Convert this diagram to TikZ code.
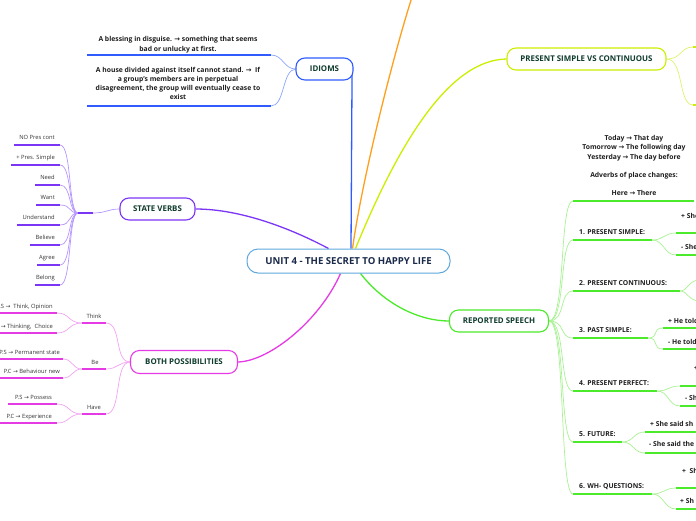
\documentclass[tikz,border=0pt]{standalone}
\usepackage{fontspec}
\setmainfont{Open Sans}
\newfontfamily\arrfont{DejaVu Sans}
\newcommand{\myarr}{{\arrfont\char"2192}}
\usetikzlibrary{calc}
\pgfdeclarelayer{bg}
\pgfsetlayers{bg,main}
\definecolor{nodegreen}{HTML}{0E3B2C}
\definecolor{ctrnavy}{HTML}{1A2A4A}
\definecolor{ctrblue}{HTML}{5FA8DC}
\definecolor{leafgray}{HTML}{333333}
\definecolor{lblblack}{HTML}{1E1E1E}
\definecolor{bluethick}{HTML}{2F5BFF}
\definecolor{bluethin}{HTML}{8CA5FF}
\definecolor{purplethick}{HTML}{7B35F5}
\definecolor{purplethin}{HTML}{B595FF}
\definecolor{magthick}{HTML}{E53BE5}
\definecolor{magthin}{HTML}{F3A3F3}
\definecolor{greenthick}{HTML}{4BEA2A}
\definecolor{greenthin}{HTML}{A8F293}
\definecolor{yelthick}{HTML}{CCEE00}
\definecolor{yelthin}{HTML}{DFF270}
\definecolor{orangeline}{HTML}{FF9F1C}
\begin{document}
\begin{tikzpicture}[x=1pt,y=-1pt,
  mainnode/.style={draw, fill=white, rounded corners=9pt, line width=1.1pt, text=nodegreen,
    font=\bfseries\fontsize{7.9}{9}\selectfont, inner sep=0pt, minimum height=22pt},
  leaf/.style={font=\fontsize{5.8}{7}\selectfont, text=leafgray, inner sep=0pt},
  lbl/.style={font=\bfseries\fontsize{6.8}{8}\selectfont, text=lblblack, inner sep=0pt},
  thickline/.style={line width=1.8pt},
  thinline/.style={line width=0.7pt},
  mainline/.style={line width=1.3pt}]
\useasboundingbox (0,0) rectangle (696,520);
\clip (0,0) rectangle (696,520);

% ---------- main nodes ----------
\node[draw=ctrblue, fill=white, line width=1pt, rounded corners=11pt, minimum width=203pt,
  minimum height=24pt, text=ctrnavy, font=\bfseries\fontsize{9.6}{11}\selectfont, inner sep=0pt]
  (ctr) at (348.5,261) {UNIT 4 - THE SECRET TO HAPPY LIFE};
\node[mainnode, draw=bluethick, minimum width=57pt] (idi) at (324.5,69) {IDIOMS};
\node[mainnode, draw=purplethick, minimum width=75pt] (sv) at (157.5,209) {STATE VERBS};
\node[mainnode, draw=magthick, minimum width=107pt, minimum height=23pt] (bp) at (184,362) {BOTH POSSIBILITIES};
\node[mainnode, draw=greenthick, minimum width=99pt] (rs) at (499,321) {REPORTED SPEECH};
\node[mainnode, draw=yelthick, minimum width=159pt] (pvc) at (586.5,59) {PRESENT SIMPLE VS CONTINUOUS};
\coordinate (orng) at (412,-3);

% ---------- IDIOMS ----------
\node[lbl, anchor=base] (i1a) at (178,41.5) {A blessing in disguise. \myarr{} something that seems};
\node[lbl, anchor=base] (i1b) at (178,51.5) {bad or unlucky at first.};
\node[lbl, anchor=base] (i2a) at (178,72.5) {A house divided against itself cannot stand. \myarr{}\ \ If};
\node[lbl, anchor=base] (i2b) at (178,81.5) {a group's members are in perpetual};
\node[lbl, anchor=base] (i2c) at (178,90.5) {disagreement, the group will eventually cease to};
\node[lbl, anchor=base] (i2d) at (178,99.5) {exist};
\coordinate (ie1) at (271,55);
\coordinate (ie2) at (271,106);
\draw[thickline, bluethick] (87,55) -- (ie1);
\draw[thickline, bluethick] (87,106) -- (ie2);

% ---------- STATE VERBS ----------
\coordinate (svhub) at (78,213);
\coordinate (svhubb) at (93,213);
\foreach \t/\y/\xs [count=\i] in {NO Pres cont/145/14, + Pres. Simple/165/11, Need/185/35,
    Want/205/36, Understand/225/17, Believe/245/30, Agree/265/37, Belong/285/35} {
  \node[leaf, anchor=base east] (svl\i) at (55,\y-5.5) {\t};
  \coordinate (sve\i) at (60,\y);
  \draw[thickline, purplethick] (\xs,\y) -- (sve\i);
  \begin{pgfonlayer}{bg}
  \draw[thinline, purplethin] (sve\i) .. controls (72,\y) and (68,213) .. (svhub);
  \end{pgfonlayer}
}
\draw[thickline, purplethick] (svhub) -- (svhubb);

% ---------- BOTH POSSIBILITIES ----------
\node[leaf, anchor=base] (mth) at (94,318) {Think};
\node[leaf, anchor=base] (mbe) at (95,364) {Be};
\node[leaf, anchor=base] (mha) at (94,409) {Have};
\coordinate (mth1) at (82,323); \coordinate (mth2) at (106,323);
\coordinate (mbe1) at (82,369); \coordinate (mbe2) at (106,369);
\coordinate (mha1) at (82,414); \coordinate (mha2) at (106,414);
\draw[thickline, magthick] (mth1) -- (mth2);
\draw[thickline, magthick] (mbe1) -- (mbe2);
\draw[thickline, magthick] (mha1) -- (mha2);

\node[leaf, anchor=base east] (l1) at (53,308) {P.S \myarr{}\ \ Think, Opinion};
\node[leaf, anchor=base east] (l2) at (53,328) {P.C \myarr{} Thinking,\ \ Choice};
\node[leaf, anchor=base east] (l3) at (60,354) {P.S \myarr{} Permanent state};
\node[leaf, anchor=base east] (l4) at (60,373) {P.C \myarr{} Behaviour new};
\node[leaf, anchor=base east] (l5) at (52,399) {P.S \myarr{} Possess};
\node[leaf, anchor=base east] (l6) at (52,418) {P.C \myarr{} Experience};
\coordinate (le1) at (57,313); \coordinate (le2) at (57,333);
\coordinate (le3) at (63,359); \coordinate (le4) at (63,378);
\coordinate (le5) at (57,404); \coordinate (le6) at (57,423);
\draw[thickline, magthick] (-5,313) -- (le1);
\draw[thickline, magthick] (-5,333) -- (le2);
\draw[thickline, magthick] (-5,359) -- (le3);
\draw[thickline, magthick] (-5,378) -- (le4);
\draw[thickline, magthick] (8,404) -- (le5);
\draw[thickline, magthick] (-5,423) -- (le6);

% ---------- REPORTED SPEECH ----------
\node[lbl, anchor=base] (t1) at (634,140.3) {Today \myarr{} That day};
\node[lbl, anchor=base] (t2) at (634,149.5) {Tomorrow \myarr{} The following day};
\node[lbl, anchor=base] (t3) at (634,159) {Yesterday \myarr{} The day before};
\node[lbl, anchor=base] (t4) at (634,177.3) {Adverbs of place changes:};
\node[lbl, anchor=base] (t5) at (634,195.3) {Here \myarr{} There};
\coordinate (rb0) at (573,201);
\draw[thickline, greenthick] (rb0) -- (694,201);

\foreach \t/\y/\xe [count=\i] in {1. PRESENT SIMPLE:/240/652, 2. PRESENT CONTINUOUS:/291/680,
    3. PAST SIMPLE:/338/648, 4. PRESENT PERFECT:/391/657, 5. FUTURE:/442/622, 6. WH- QUESTIONS:/494/652} {
  \node[lbl, anchor=base west] (rl\i) at (579,\y-5.5) {\t};
  \coordinate (rb\i) at (573,\y);
  \coordinate (re\i) at (\xe,\y);
  \draw[thickline, greenthick] (rb\i) -- (re\i);
}
% sub-branches (cut by the right edge)
\foreach \txt/\tx/\ty/\ly/\lx/\k in {+ She/681/218.5/233/676/1, - She/681/249.5/255/676/1,
    + He told/668/323/328/663/3, - He told/668/344/349/663/3,
    +/694/370/386/680/4, - Sh/685/400.5/406/680/4,
    + She said sh/650/426.5/432/645/5, - She said the/649/446.5/453/645/5,
    +\ \ Sh/682/473.5/488/676/6, + Sh/680/503.5/509/676/6} {
  \node[lbl, anchor=base west] at (\tx,\ty) {\txt};
  \coordinate (sb) at (\lx,\ly);
  \draw[thickline, greenthick] (sb) -- (700,\ly);
  \begin{pgfonlayer}{bg}
  \draw[thinline, greenthin] (re\k) .. controls ($(re\k)+(12,0)$) and ($(sb)+(-12,0)$) .. (sb);
  \end{pgfonlayer}
}
\coordinate (s2a) at (700,280);
\coordinate (s2b) at (700,301);

% ---------- connectors ----------
\begin{pgfonlayer}{bg}
\draw[mainline, bluethick] ($(ctr.north)+(2.5,0)$) -- ($(idi.east)+(-1.5,5)$);
\draw[mainline, orangeline] ($(ctr.north)+(4,0)$) .. controls (362,180) and (392,60) .. (orng);
\draw[mainline, yelthick] ($(ctr.north)+(7,0)$) .. controls (400,140) and (450,60) .. (pvc.west);
\draw[mainline, purplethick] ($(ctr.north)+(-20,0)$) .. controls (290,228) and (240,209) .. (sv.east);
\draw[mainline, magthick] ($(ctr.south)+(-8,0)$) .. controls (320,320) and (270,361) .. (bp.east);
\draw[mainline, greenthick] ($(ctr.south)+(12,0)$) .. controls (385,305) and (420,321) .. (rs.west);

% idioms
\draw[thinline, bluethin] (idi.west) .. controls (284,69) and (283,55) .. (ie1);
\draw[thinline, bluethin] (idi.west) .. controls (282,70) and (285,106) .. (ie2);
% state verbs
\draw[thinline, purplethin] (svhubb) .. controls (106,213) and (108,209) .. (sv.west);
% both possibilities
\draw[thinline, magthin] (le1) .. controls (70,313) and (68,323) .. (mth1);
\draw[thinline, magthin] (le2) .. controls (70,333) and (68,323) .. (mth1);
\draw[thinline, magthin] (le3) .. controls (73,359) and (72,369) .. (mbe1);
\draw[thinline, magthin] (le4) .. controls (73,378) and (72,369) .. (mbe1);
\draw[thinline, magthin] (le5) .. controls (70,404) and (68,414) .. (mha1);
\draw[thinline, magthin] (le6) .. controls (70,423) and (68,414) .. (mha1);
\draw[thinline, magthin] (mth2) .. controls (122,323) and (114,362) .. (bp.west);
\draw[thinline, magthin] (mbe2) .. controls (118,369) and (118,362) .. (bp.west);
\draw[thinline, magthin] (mha2) .. controls (122,414) and (114,362) .. (bp.west);
% reported speech fan
\foreach \i in {0,...,6} {
  \draw[thinline, greenthin] (rs.east) .. controls (566,321) and ($(rb\i)+(-14,0)$) .. (rb\i);
}
\draw[thinline, greenthin] (re2) .. controls (688,291) and (688,280) .. (s2a);
\draw[thinline, greenthin] (re2) .. controls (688,291) and (688,301) .. (s2b);
% present simple vs continuous
\coordinate (pv1) at (693,47);
\coordinate (pv2) at (693,105);
\draw[thinline, yelthin] (pvc.east) .. controls (682,59) and (680,47) .. (pv1);
\draw[thinline, yelthin] (pvc.east) .. controls (684,59) and (678,105) .. (pv2);
\end{pgfonlayer}
\draw[thickline, yelthick] (pv1) -- (700,47);
\draw[thickline, yelthick] (pv2) -- (700,105);
\end{tikzpicture}
\end{document}
